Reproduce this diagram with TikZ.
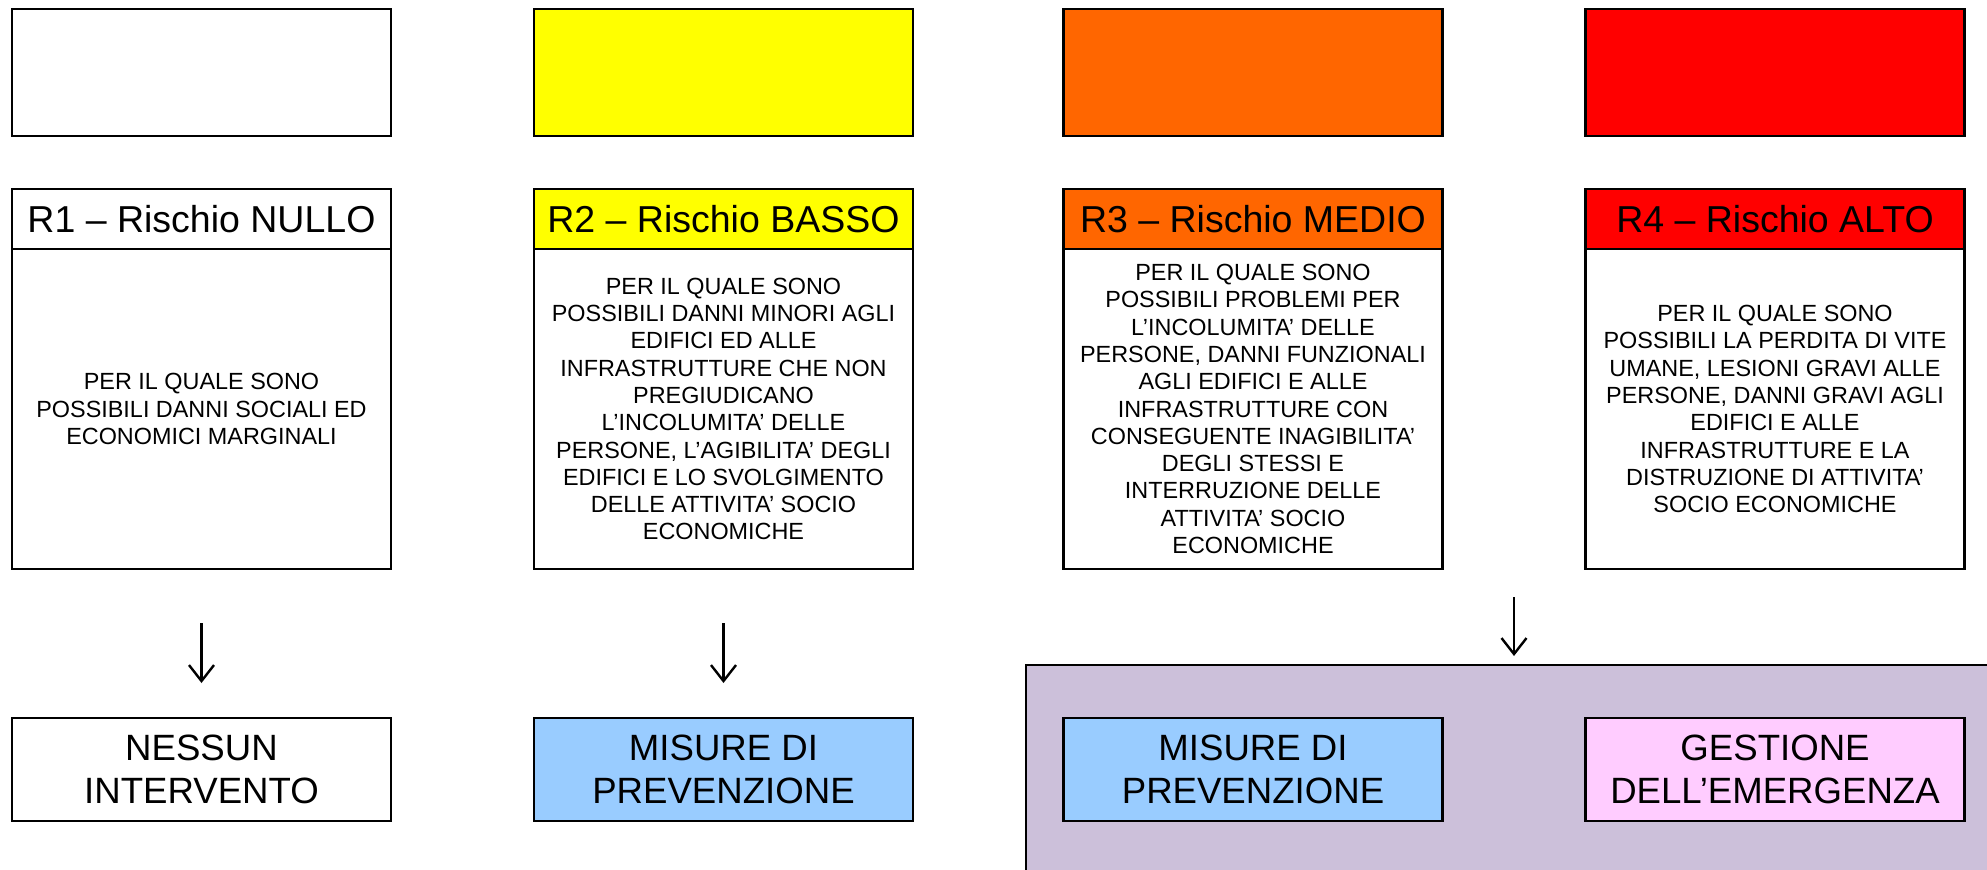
\documentclass[tikz,border=0pt]{standalone}
\usepackage{fontspec}
\setmainfont{Liberation Sans}
\usetikzlibrary{arrows.meta,calc}
\definecolor{cyel}{HTML}{FFFF00}
\definecolor{cora}{HTML}{FF6600}
\definecolor{cred}{HTML}{FF0000}
\definecolor{cblu}{HTML}{99CCFF}
\definecolor{cpnk}{HTML}{FFCCFF}
\definecolor{cpur}{HTML}{CCC0DA}
\begin{document}
\begin{tikzpicture}[x=1pt,y=-1pt,
  box/.style={draw=black,line width=2.2pt,minimum width=379pt,inner sep=0pt,outer sep=0pt,align=center},
  swatch/.style={box,minimum height=127pt},
  headbox/.style={box,minimum height=60pt,font=\fontsize{37.5}{44}\selectfont},
  bodybox/.style={box,minimum height=320pt,font=\fontsize{23.4}{27.3}\selectfont},
  outbox/.style={box,minimum height=103pt,font=\fontsize{36.6}{43}\selectfont},
  arr/.style={line width=2.4pt,-{Straight Barb[length=16pt,width=25pt,line width=2.4pt]}}]
\useasboundingbox (0,0) rectangle (1987,870);
% group background
\fill[cpur] (1026,665) rectangle (1987,870);
\draw[line width=1.6pt] (1026,870) -- (1026,665) -- (1987,665);
% top swatches
\node[swatch,fill=white] (s1) at (201.5,72.5) {};
\node[swatch,fill=cyel] (s2) at (723.5,72.5) {};
\node[swatch,fill=cora] (s3) at (1253,72.5) {};
\node[swatch,fill=cred] (s4) at (1775,72.5) {};
% headers
\node[headbox,fill=white] (h1) at (201.5,219) {R1 – Rischio NULLO};
\node[headbox,fill=cyel] (h2) at (723.5,219) {R2 – Rischio BASSO};
\node[headbox,fill=cora] (h3) at (1253,219) {R3 – Rischio MEDIO};
\node[headbox,fill=cred] (h4) at (1775,219) {R4 – Rischio ALTO};
% bodies
\node[bodybox,fill=white] (b1) at (201.5,409) {PER IL QUALE SONO\\POSSIBILI DANNI SOCIALI ED\\ECONOMICI MARGINALI};
\node[bodybox,fill=white] (b2) at (723.5,409) {PER IL QUALE SONO\\POSSIBILI DANNI MINORI AGLI\\EDIFICI ED ALLE\\INFRASTRUTTURE CHE NON\\PREGIUDICANO\\L’INCOLUMITA’ DELLE\\PERSONE, L’AGIBILITA’ DEGLI\\EDIFICI E LO SVOLGIMENTO\\DELLE ATTIVITA’ SOCIO\\ECONOMICHE};
\node[bodybox,fill=white] (b3) at (1253,409) {PER IL QUALE SONO\\POSSIBILI PROBLEMI PER\\L’INCOLUMITA’ DELLE\\PERSONE, DANNI FUNZIONALI\\AGLI EDIFICI E ALLE\\INFRASTRUTTURE CON\\CONSEGUENTE INAGIBILITA’\\DEGLI STESSI E\\INTERRUZIONE DELLE\\ATTIVITA’ SOCIO\\ECONOMICHE};
\node[bodybox,fill=white] (b4) at (1775,409) {PER IL QUALE SONO\\POSSIBILI LA PERDITA DI VITE\\UMANE, LESIONI GRAVI ALLE\\PERSONE, DANNI GRAVI AGLI\\EDIFICI E ALLE\\INFRASTRUTTURE E LA\\DISTRUZIONE DI ATTIVITA’\\SOCIO ECONOMICHE};
% outcomes
\node[outbox,fill=white] (o1) at (201.5,769.5) {NESSUN\\INTERVENTO};
\node[outbox,fill=cblu] (o2) at (723.5,769.5) {MISURE DI\\PREVENZIONE};
\node[outbox,fill=cblu] (o3) at (1253,769.5) {MISURE DI\\PREVENZIONE};
\node[outbox,fill=cpnk] (o4) at (1775,769.5) {GESTIONE\\DELL’EMERGENZA};
% group top edge reference
\coordinate (gtop) at (1514,665);
% arrows
\draw[arr] ([yshift=-54pt]b1.south) -- ([yshift=35pt]o1.north);
\draw[arr] ([yshift=-54pt]b2.south) -- ([yshift=35pt]o2.north);
\draw[arr] ([yshift=-28pt]$(b3.south)!0.5!(b4.south)$) -- ([yshift=9pt]gtop);
\end{tikzpicture}
\end{document}
